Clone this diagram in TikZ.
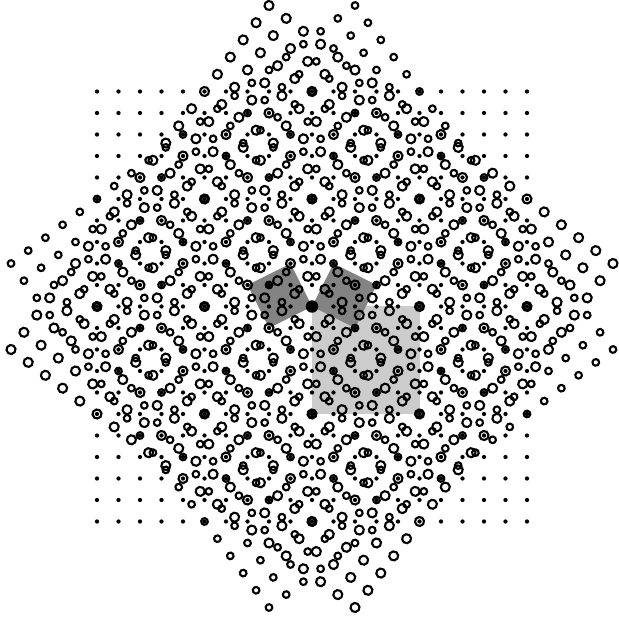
\documentclass[tikz,border=0pt]{standalone}
\usepackage{tikz}
\definecolor{shadeLight}{HTML}{CCCCCC}
\definecolor{shadeDark}{HTML}{838383}
\tikzset{
  ringBig/.style={draw=black, line width=1.4pt},
  ringSmall/.style={draw=black, line width=1.4pt},
  dotGrid/.style={fill=black},
  cellLight/.style={fill=shadeLight, draw=none},
  cellDark/.style={fill=shadeDark, draw=none},
}
\begin{document}
\begin{tikzpicture}[x=0.5cm, y=0.5cm]
    \useasboundingbox (-14.512,-14.535) rectangle (14.233,14.256);
    \fill[cellLight] (0,0) rectangle (5,-5);
    \fill[cellDark] (0,0) -- (2,-1) -- (3,1) -- (1,2) -- cycle;
    \fill[cellDark] (0,0) -- (-2,-1) -- (-3,1) -- (-1,2) -- cycle;
    \foreach \i in {-10,...,10}
      \foreach \j in {-10,...,10}
        \fill[dotGrid] (\i,\j) circle (0.1);
    \begin{scope}[rotate=-36.87]
      \foreach \i in {-10,...,10}
        \foreach \j in {-10,...,10}
          \draw[ringBig] (\i,\j) circle (0.21);
    \end{scope}
    \begin{scope}[rotate=36.87]
      \foreach \i in {-10,...,10}
        \foreach \j in {-10,...,10}
          \draw[ringSmall] (\i,\j) circle (0.155);
    \end{scope}
    \fill[black] (0,0) circle (0.29);
  \end{tikzpicture}
\end{document}
